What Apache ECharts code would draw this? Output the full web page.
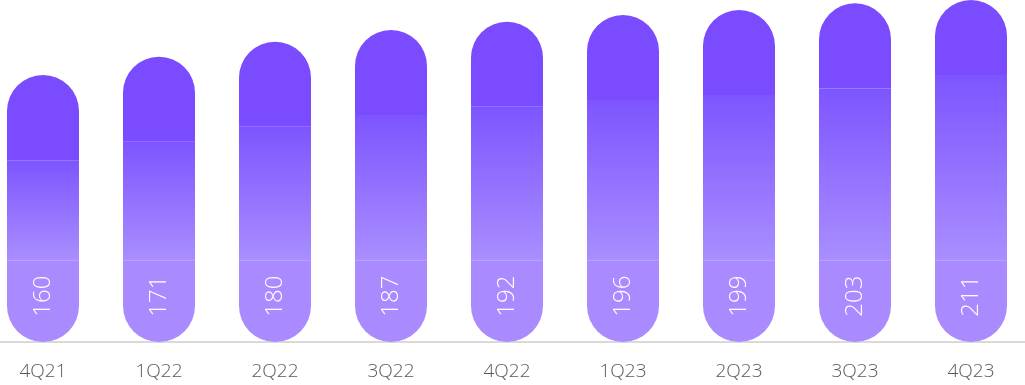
<!DOCTYPE html>
<html>
<head>
<meta charset="utf-8">
<script src="https://cdn.jsdelivr.net/npm/echarts@6/dist/echarts.min.js"></script>
<style>html,body{margin:0;padding:0;background:#fff;overflow:hidden}#c{width:1044px;height:385px;margin-left:-15px}</style>
</head>
<body>
<div id="c"></div>
<script>
var categories = ['4Q21','1Q22','2Q22','3Q22','4Q22','1Q23','2Q23','3Q23','4Q23'];
var values = [160,171,180,187,192,196,199,203,211];

var BOTTOM_CAP = 49;  // value-units used by the label cap
var TOP_CAP = 51;     // value-units used by the rounded top cap

var bottomData = values.map(function(){ return BOTTOM_CAP; });
var middleData = values.map(function(v){ return v - BOTTOM_CAP - TOP_CAP; });
var topData = values.map(function(){ return TOP_CAP; });

var chart = echarts.init(document.getElementById('c'), null, {renderer:'canvas'});
chart.setOption({
  animation:false,
  grid:{left:0, right:0, top:0, bottom:43, containLabel:false},
  xAxis:{
    type:'category', data:categories,
    axisLine:{show:true, lineStyle:{color:'#d9d9d9', width:2}},
    axisTick:{show:false},
    axisLabel:{color:'#595959', fontSize:19, margin:20, fontFamily:'Open Sans', fontWeight:300}
  },
  yAxis:{type:'value', min:0, max:205, show:false, splitLine:{show:false}},
  series:[
    {type:'bar', stack:'s', data:bottomData, barWidth:72,
     itemStyle:{color:'#a98bff', borderRadius:[0,0,36,36]},
     label:{show:true, position:'inside', rotate:90, color:'#fff', fontSize:24,
       fontFamily:'Open Sans', fontWeight:300, offset:[5,0],
       formatter:function(p){ return String(values[p.dataIndex]); }}
    },
    {type:'bar', stack:'s', data:middleData, barWidth:72,
     itemStyle:{color:new echarts.graphic.LinearGradient(0,0,0,1,[
       {offset:0,color:'#7d55ff'},{offset:1,color:'#a98eff'}])}
    },
    {type:'bar', stack:'s', data:topData, barWidth:72,
     itemStyle:{color:'#7a4bff', borderRadius:[36,36,0,0]}
    }
  ]
});
</script>
</body>
</html>
